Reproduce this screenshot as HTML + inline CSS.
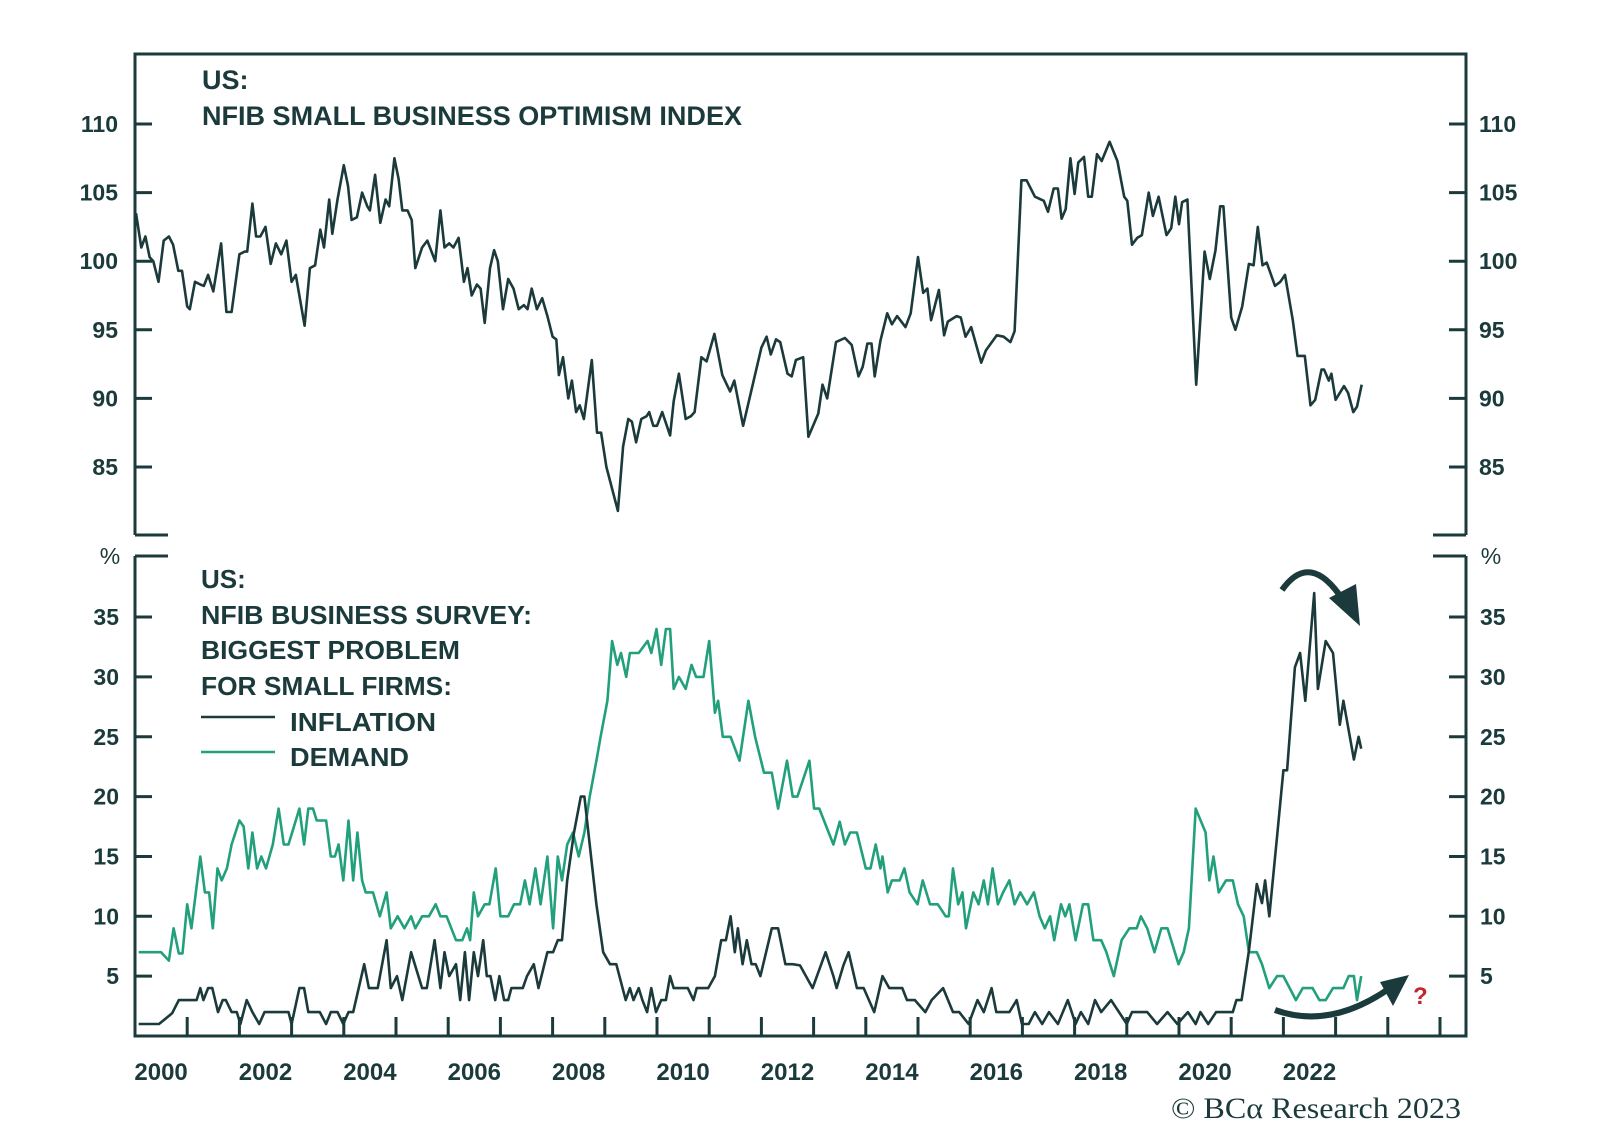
<!DOCTYPE html>
<html><head><meta charset="utf-8"><style>
html,body{margin:0;padding:0;background:#fff;}
svg{display:block;font-family:"Liberation Sans",sans-serif;}
</style></head><body>
<svg id="chart" width="1600" height="1137" viewBox="0 0 1600 1137" xmlns="http://www.w3.org/2000/svg">
<rect width="1600" height="1137" fill="#fff"/>
<g id="frame" stroke="#1b3a3b" stroke-width="3" fill="none">
<path d="M135 535 L135 54 L1466 54 L1466 535"/>
<path d="M135 535 L168 535 M1433 535 L1466 535"/>
<path d="M135 556 L168 556 M1433 556 L1466 556"/>
<path d="M135 556 L135 1036 L1466 1036 L1466 556"/>
</g>
<g id="ticks" stroke="#1b3a3b" stroke-width="3"></g>
<g id="labels" fill="#1b3a3b" font-weight="bold"></g>
<g id="series" fill="none" stroke-linejoin="round"></g>
<g fill="#1b3a3b" font-weight="bold" font-size="27">
<text x="202" y="89">US:</text>
<text x="202" y="125" textLength="540" lengthAdjust="spacingAndGlyphs">NFIB SMALL BUSINESS OPTIMISM INDEX</text>
</g>
<g fill="#1b3a3b" font-weight="bold" font-size="26">
<text x="201" y="588">US:</text>
<text x="201" y="624" textLength="331" lengthAdjust="spacingAndGlyphs">NFIB BUSINESS SURVEY:</text>
<text x="201" y="659" textLength="259" lengthAdjust="spacingAndGlyphs">BIGGEST PROBLEM</text>
<text x="201" y="695" textLength="251" lengthAdjust="spacingAndGlyphs">FOR SMALL FIRMS:</text>
<line x1="201" y1="717" x2="275" y2="717" stroke="#1b3a3b" stroke-width="2.5"/>
<text x="290" y="731" textLength="146" lengthAdjust="spacingAndGlyphs">INFLATION</text>
<line x1="201" y1="752" x2="275" y2="752" stroke="#22a07c" stroke-width="2.5"/>
<text x="290" y="766" textLength="119" lengthAdjust="spacingAndGlyphs">DEMAND</text>
</g>
<g>
<path d="M1282 590 Q1310 550 1343 600" stroke="#1b3a3b" stroke-width="6" fill="none"/>
<polygon points="1360,626 1329,598 1356,584" fill="#1b3a3b"/>
</g>
<g>
<path d="M1275 1010 Q1330 1030 1390 988" stroke="#1b3a3b" stroke-width="6" fill="none"/>
<polygon points="1409,975 1380,982 1393,1006" fill="#1b3a3b"/>
</g>
<text x="1413" y="1004" fill="#c0262d" font-size="24" font-weight="bold">?</text>
<text x="1461" y="1118" text-anchor="end" font-family="'Liberation Serif',serif" font-size="30" fill="#1b3a3b" textLength="290" lengthAdjust="spacingAndGlyphs">© BCα Research 2023</text>
</svg>
<script>
const upperTicks=[85,90,95,100,105,110];
const lowerTicks=[5,10,15,20,25,30,35];
const yearLabels=[2000,2002,2004,2006,2008,2010,2012,2014,2016,2018,2020,2022];
const optT=[0.02,0.12,0.2,0.28,0.35,0.45,0.55,0.65,0.73,0.83,0.9,1.0,1.05,1.15,1.25,1.32,1.4,1.5,1.65,1.75,1.85,2.0,2.1,2.15,2.25,2.32,2.4,2.5,2.6,2.7,2.8,2.9,3.0,3.08,3.25,3.35,3.45,3.55,3.62,3.72,3.78,3.88,4.0,4.08,4.15,4.25,4.35,4.45,4.5,4.6,4.7,4.8,4.87,4.97,5.05,5.12,5.22,5.3,5.37,5.5,5.6,5.75,5.85,5.93,6.02,6.1,6.2,6.3,6.37,6.45,6.55,6.62,6.7,6.8,6.88,6.95,7.05,7.15,7.25,7.35,7.45,7.52,7.6,7.7,7.8,7.9,8.0,8.07,8.12,8.2,8.3,8.37,8.45,8.52,8.6,8.75,8.85,8.93,9.03,9.25,9.35,9.45,9.52,9.6,9.7,9.8,9.85,9.93,10.0,10.1,10.25,10.32,10.42,10.55,10.65,10.72,10.85,10.95,11.1,11.25,11.4,11.48,11.65,12.0,12.1,12.18,12.28,12.36,12.5,12.58,12.66,12.8,12.9,13.09,13.17,13.26,13.43,13.6,13.73,13.86,13.94,14.03,14.11,14.17,14.28,14.41,14.5,14.6,14.76,14.86,15.0,15.1,15.18,15.25,15.4,15.5,15.57,15.74,15.82,15.91,16.02,16.21,16.3,16.51,16.64,16.77,16.85,16.98,17.08,17.24,17.41,17.49,17.6,17.68,17.75,17.83,17.92,18.0,18.07,18.18,18.26,18.33,18.43,18.52,18.67,18.82,18.95,19.01,19.1,19.2,19.29,19.42,19.5,19.61,19.76,19.85,19.93,20.0,20.06,20.16,20.33,20.49,20.59,20.7,20.79,20.85,21.0,21.08,21.21,21.34,21.43,21.51,21.6,21.68,21.84,21.94,22.03,22.18,22.27,22.41,22.52,22.61,22.73,22.78,22.87,22.92,23.0,23.16,23.24,23.34,23.41,23.5];
const optV=[103.5,101,101.8,100.3,100,98.5,101.5,101.8,101.2,99.3,99.3,96.7,96.5,98.5,98.3,98.2,99,97.8,101.3,96.3,96.3,100.5,100.7,100.7,104.2,101.8,101.8,102.5,99.8,101.3,100.5,101.5,98.5,99,95.3,99.5,99.7,102.3,101,104.5,102,104.5,107,105.5,103,103.2,105,104,103.7,106.3,102.8,104.5,104,107.5,106,103.7,103.7,103,99.5,101,101.5,100,103.7,101,101.3,101,101.7,98.5,99.5,97.5,98.3,98,95.5,99.5,100.8,100,96.5,98.7,98,96.5,96.8,96.5,98,96.5,97.3,96,94.5,94.3,91.7,93,90,91.3,89,89.5,88.5,92.8,87.5,87.5,85,81.8,86.5,88.5,88.3,86.8,88.5,88.7,89,88,88,89,87.3,89.8,91.8,88.5,88.7,89,93,92.7,94.7,91.7,90.5,91.3,88,93.7,94.5,93.2,94.3,94.1,91.8,91.6,92.8,93,87.2,88.9,91,90,94.1,94.4,93.9,91.6,92.3,94,94,91.6,94.2,96.2,95.4,96,95.2,96.2,100.3,97.7,98,95.7,97.9,94.6,95.6,96,95.9,94.5,95.2,92.6,93.5,94.6,94.5,94.1,94.9,105.9,105.9,104.7,104.4,103.6,105.3,105.3,103.1,103.8,107.5,104.9,107.2,107.6,104.7,104.7,107.8,107.3,108.7,107.3,104.7,104.4,101.2,101.7,101.9,105,103.3,104.7,101.9,102.4,104.7,102.7,104.3,104.5,91,100.7,98.7,100.8,104,104,95.9,95,96.7,99.8,99.7,102.5,99.7,99.9,98.2,98.5,99,95.7,93.1,93.1,89.5,89.9,92.1,92.1,91.3,91.8,89.9,90.9,90.4,89,89.4,91];
const demT=[0.07,0.5,0.65,0.74,0.84,0.91,1.0,1.08,1.25,1.34,1.42,1.49,1.58,1.66,1.76,1.85,2.0,2.08,2.17,2.25,2.34,2.42,2.51,2.64,2.75,2.85,2.94,3.15,3.24,3.32,3.41,3.48,3.66,3.75,3.83,3.9,3.99,4.09,4.18,4.26,4.35,4.42,4.56,4.69,4.82,4.9,5.03,5.16,5.29,5.37,5.5,5.63,5.76,5.85,5.97,6.15,6.27,6.36,6.42,6.49,6.57,6.7,6.79,6.91,7.0,7.15,7.26,7.38,7.47,7.56,7.67,7.77,7.9,8.01,8.1,8.18,8.28,8.39,8.5,8.61,8.71,8.84,8.92,9.05,9.14,9.24,9.31,9.41,9.48,9.65,9.82,9.89,9.99,10.08,10.17,10.25,10.32,10.42,10.55,10.66,10.75,10.89,11.0,11.11,11.17,11.26,11.41,11.58,11.75,11.88,12.05,12.2,12.32,12.49,12.6,12.69,12.92,13.01,13.11,13.38,13.5,13.6,13.7,13.83,14.0,14.09,14.19,14.28,14.32,14.42,14.5,14.65,14.74,14.84,14.99,15.09,15.23,15.38,15.53,15.59,15.67,15.77,15.85,15.92,16.06,16.16,16.26,16.34,16.43,16.53,16.63,16.75,16.85,16.96,17.09,17.22,17.33,17.43,17.53,17.61,17.74,17.82,17.9,18.02,18.16,18.26,18.36,18.51,18.61,18.75,18.9,19.05,19.19,19.27,19.39,19.53,19.66,19.78,19.99,20.09,20.19,20.32,20.51,20.58,20.66,20.76,20.9,21.03,21.13,21.24,21.34,21.49,21.59,21.73,21.88,22.0,22.12,22.24,22.37,22.56,22.69,22.81,22.95,23.15,23.25,23.35,23.41,23.49];
const demV=[7,7,6.3,9,6.9,6.9,11,9,15,12,12,9,14,13,14,16,18,17.5,14,17,14,15,14,16,19,16,16,19,16,19,19,18,18,15,15,16,13,18,13,17,13,12,12,10,12,9,10,9,10,9,10,10,11,10,10,8,8,9,8,12,10,11,11,14,10,10,11,11,13,11,14,11,15,9,15,13,16,17,15,17,20,23,25,28,33,31,32,30,32,32,33,32,34,31,34,34,29,30,29,31,30,30,33,27,28,25,25,23,28,25,22,22,19,23,20,20,23,19,19,16,17.9,16,17,17,14,14,16,14,15,12,13,13,14,12,11,13,11,11,10,10,14,11,12,9,12,11,13,11,14,11,12,13,11,12,11,12,10,9,10,8,11,10,11,8,11,11,8,8,7,5,8,9,9,10,9,7,9,9,6,7,9,19,17,13,15,12,13,13,11,10,7,7,6,4,5,5,4,3,4,4,3,3,4,4,5,5,3,5];
const infT=[0.07,0.46,0.71,0.84,1.18,1.25,1.31,1.4,1.48,1.59,1.68,1.74,1.85,1.95,2.02,2.14,2.25,2.38,2.48,2.94,3.0,3.15,3.24,3.32,3.54,3.66,3.75,3.88,3.99,4.09,4.18,4.39,4.48,4.56,4.65,4.82,4.9,5.02,5.12,5.29,5.5,5.59,5.74,5.85,5.93,6.02,6.15,6.23,6.32,6.4,6.49,6.57,6.67,6.74,6.81,6.9,6.98,7.07,7.15,7.21,7.43,7.51,7.64,7.73,7.9,8.01,8.1,8.18,8.28,8.41,8.54,8.61,8.71,8.84,8.97,9.1,9.22,9.4,9.48,9.55,9.65,9.72,9.81,9.89,9.98,10.08,10.17,10.25,10.32,10.59,10.7,10.76,10.98,11.11,11.23,11.32,11.41,11.49,11.55,11.64,11.72,11.81,11.89,11.98,12.09,12.2,12.32,12.46,12.6,12.74,12.98,13.23,13.38,13.44,13.57,13.67,13.83,13.96,14.16,14.32,14.45,14.7,14.79,14.94,15.14,15.26,15.48,15.67,15.79,15.97,16.14,16.26,16.41,16.5,16.75,16.89,16.99,17.12,17.24,17.38,17.51,17.68,17.87,18.02,18.12,18.26,18.39,18.51,18.7,18.85,19.0,19.1,19.39,19.58,19.78,19.97,20.17,20.32,20.41,20.56,20.71,21.03,21.1,21.2,21.34,21.49,21.59,21.65,21.73,21.88,22.0,22.07,22.22,22.32,22.42,22.59,22.66,22.81,22.95,23.08,23.15,23.35,23.44,23.49];
const infV=[1,1,1.9,3,3,4,3,4,4,2,3,3,2,2,1,3,2,1,2,2,1,4,4,2,2,1,2,2,1,2,2,6,4,4,4,8,4,5,3,7,4,4,8,4,7,5,6,3,7,3,7,5,8,5,5,3,5,3,3,4,4,5,6,4,7,7,8,8,13,17,20,20,16,11,7,6,6,3,4,3,4,3,2,4,2,3,3,5,4,4,3,4,4,5,8,8,10,7,9,6,8,6,6,5,7,9,9,6,6,5.9,4,7,5,4,5.9,7,4,4,2,5,4,4,3,3,2,3,4,2,2,1,3,2,4,2,2,3,1,1,2,1,2,1,3,1,2,1,3,2,3,2,1,2,2,1,2,1,2,1,2,1,2,2,3,3,7.1,12.7,11.1,13,10,16.7,22.2,22.2,30.8,32,28,37,29,33,32,26,28,23.1,25,24];

const NS='http://www.w3.org/2000/svg';
const X0=135, PXY=52.2;
function xs(t){return X0+t*PXY;}
function yU(v){return 124+(110-v)*13.72;}
function yL(v){return 1036-v*11.97;}
function mk(tag,attrs,parent){const e=document.createElementNS(NS,tag);for(const k in attrs)e.setAttribute(k,attrs[k]);parent.appendChild(e);return e;}
const ticks=document.getElementById('ticks');
const labels=document.getElementById('labels');
const series=document.getElementById('series');

upperTicks.forEach(v=>{
  const y=yU(v);
  const l1=mk('line',{x1:135,x2:152,y1:y,y2:y},ticks);
  
  
  const l2=mk('line',{x1:1449,x2:1466,y1:y,y2:y},ticks);
  
  
  const t1=mk('text',{x:118,y:y+8,'text-anchor':'end','font-size':23},labels);t1.textContent=v;
  
  
  const t2=mk('text',{x:1479,y:y+8,'font-size':23},labels);t2.textContent=v;
  
  
});
lowerTicks.forEach(v=>{
  const y=yL(v);
  const l1=mk('line',{x1:135,x2:152,y1:y,y2:y},ticks);
  
  
  const l2=mk('line',{x1:1449,x2:1466,y1:y,y2:y},ticks);
  
  
  const t1=mk('text',{x:119,y:y+8,'text-anchor':'end','font-size':23},labels);t1.textContent=v;
  
  
  const t2=mk('text',{x:1480,y:y+8,'font-size':23},labels);t2.textContent=v;
  
  
});
['left','right'].forEach((s,i)=>{
  const p=mk('text',{x:i?1491:110,y:564,'text-anchor':'middle','font-size':23,'font-weight':'normal'},labels);p.textContent='%';
  
  
});
for(let yr=1;yr<=25;yr++){
  const x=xs(yr);
  const l=mk('line',{x1:x,x2:x,y1:1036,y2:1017},ticks);
  
  
}
yearLabels.forEach(yr=>{
  const t=mk('text',{x:xs(yr-2000+0.5),y:1080,'text-anchor':'middle','font-size':24},labels);t.textContent=yr;
  
  
});
function line(T,V,yf,color,name){
  const d=T.map((t,i)=>(i?'L':'M')+xs(t).toFixed(1)+' '+yf(V[i]).toFixed(1)).join(' ');
  const p=mk('path',{d:d,stroke:color,'stroke-width':2.6},series);
  
  
}
line(optT,optV,yU,'#1b3a3b','optimism-index-line');
line(demT,demV,yL,'#22a07c','demand-line');
line(infT,infV,yL,'#1b3a3b','inflation-line');
</script>
</body></html>
